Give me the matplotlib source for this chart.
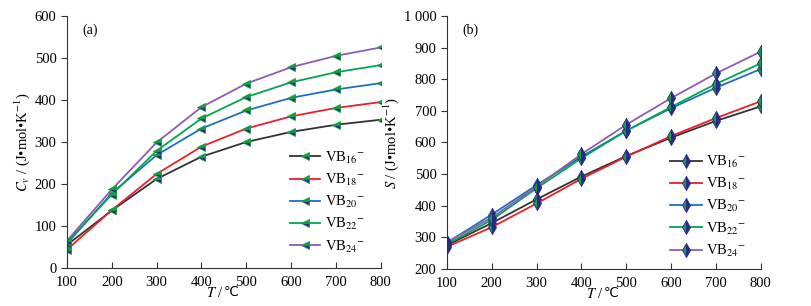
import numpy as np
import matplotlib
matplotlib.use("Agg")
import matplotlib.pyplot as plt
from matplotlib.ticker import FuncFormatter

plt.rcParams['font.family'] = ['Liberation Serif', 'DejaVu Serif']
plt.rcParams['mathtext.fontset'] = 'stix'
plt.rcParams['font.size'] = 10

T = [100, 200, 300, 400, 500, 600, 700, 800]
labels = ["VB$_{16}$$^{-}$", "VB$_{18}$$^{-}$", "VB$_{20}$$^{-}$",
          "VB$_{22}$$^{-}$", "VB$_{24}$$^{-}$"]
colors = ["#333333", "#e8202a", "#1f6fc0", "#00a650", "#8e5bb5"]

# heat capacity Cv
cv16 = [55, 137, 212, 265, 300, 324, 341, 353]
cv18 = [44, 138, 224, 289, 332, 361, 381, 395]
cv20 = [58, 178, 269, 332, 375, 405, 425, 440]
cv22 = [62, 175, 279, 356, 407, 442, 466, 483]
cv24 = [65, 187, 299, 383, 439, 478, 505, 525]

# entropy S
s16 = [275, 345, 420, 492, 557, 615, 668, 714]
s18 = [270, 332, 407, 485, 555, 620, 677, 730]
s20 = [283, 372, 465, 555, 637, 708, 773, 832]
s22 = [278, 355, 455, 550, 637, 712, 785, 850]
s24 = [285, 362, 460, 563, 656, 740, 818, 887]

fig = plt.figure(figsize=(8.11, 3.06), dpi=100)
ax1 = fig.add_axes([0.0826, 0.124, 0.387, 0.824])
ax2 = fig.add_axes([0.551, 0.121, 0.387, 0.827])

for y, c, l in zip([cv16, cv18, cv20, cv22, cv24], colors, labels):
    ax1.plot(T, y, color=c, lw=1.3, marker='<', ms=5.5, fillstyle='top',
             markerfacecolor='#12a040', markerfacecoloralt='#262c86',
             markeredgecolor='#12a040', markeredgewidth=0.6, label=l)
for y, c, l in zip([s16, s18, s20, s22, s24], colors, labels):
    ax2.plot(T, y, color=c, lw=1.3, marker='d', ms=7, fillstyle='left',
             markerfacecolor='#12a040', markerfacecoloralt='#262c86',
             markeredgecolor='#262c86', markeredgewidth=0.6, label=l)

ax1.set_xlim(100, 800)
ax1.set_ylim(0, 600)
ax1.set_yticks(np.arange(0, 601, 100))
ax2.set_xlim(100, 800)
ax2.set_ylim(200, 1000)
ax2.set_yticks(np.arange(200, 1001, 100))
ax2.yaxis.set_major_formatter(FuncFormatter(lambda v, p: "1 000" if v == 1000 else "%d" % v))

ax1.set_ylabel("$C_v$ / (J•mol•K$^{-1}$)", labelpad=2, fontsize=10.5)
ax2.set_ylabel("$S$ / (J•mol•K$^{-1}$)", labelpad=2, fontsize=10.5)
for ax, tag in [(ax1, "(a)"), (ax2, "(b)")]:
    ax.set_xticks(T)
    # x label in two pieces so the ℃ sign can fall back to DejaVu
    ax.text(0.5, -0.098, "$T$ / ", transform=ax.transAxes, ha='right', va='center', fontsize=10.5)
    ax.text(0.5, -0.098, "℃", transform=ax.transAxes, ha='left', va='center', fontsize=9.5,
            family=['DejaVu Sans'])
    ax.spines['top'].set_visible(False)
    ax.spines['right'].set_visible(False)
    ax.spines['left'].set_color('#333333')
    ax.spines['bottom'].set_color('#333333')
    ax.tick_params(axis='x', direction='in', length=4, color='#333333', pad=6, labelsize=10.5)
    ax.tick_params(axis='y', direction='out', length=4, color='#333333', labelsize=10.5)
    ax.text(0.05, 0.93, tag, transform=ax.transAxes, fontsize=10)

ax1.legend(loc='upper left', bbox_to_anchor=(0.71, 0.47), frameon=False, numpoints=1,
           handlelength=2.1, labelspacing=0.42, fontsize=10.5, handletextpad=0.3,
           borderpad=0, borderaxespad=0)
ax2.legend(loc='upper left', bbox_to_anchor=(0.71, 0.455), frameon=False, numpoints=1,
           handlelength=2.2, labelspacing=0.42, fontsize=10.5, handletextpad=0.3,
           borderpad=0, borderaxespad=0)

fig.savefig("out.png", dpi=100)
